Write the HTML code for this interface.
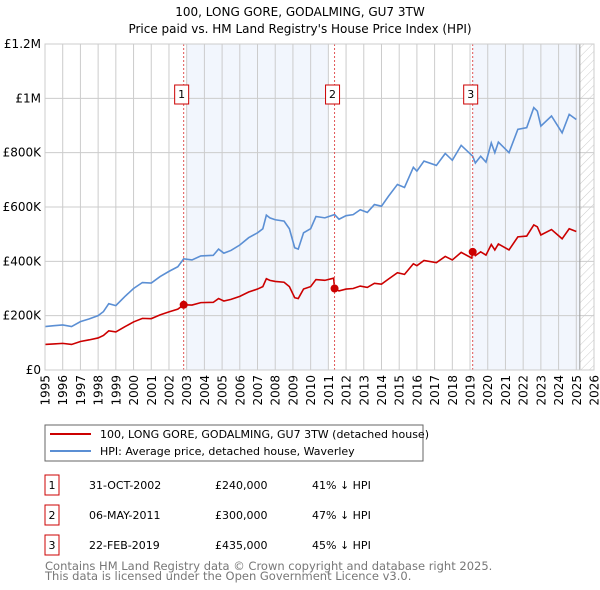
<!DOCTYPE html>
<html><head><meta charset="utf-8"><style>
body{margin:0;background:#fff;font-family:"DejaVu Sans","Liberation Sans",sans-serif;}
#wrap{position:relative;width:600px;height:590px;overflow:hidden;}
svg text{font-family:"DejaVu Sans","Liberation Sans",sans-serif;}
</style></head><body><div id="wrap">
<svg id="chart" width="600" height="590">
<text x="300" y="16" text-anchor="middle" font-size="12">100, LONG GORE, GODALMING, GU7 3TW</text>
<text x="300" y="33" text-anchor="middle" font-size="12">Price paid vs. HM Land Registry's House Price Index (HPI)</text>
<defs><pattern id="hatch" width="6" height="6" patternUnits="userSpaceOnUse" patternTransform="rotate(45)"><line x1="0" y1="0" x2="0" y2="6" stroke="#ccc" stroke-width="1"/></pattern></defs>
<g id="shade"></g><g id="grid"></g><g id="lines"></g><g id="marks"></g><g id="axes"></g>
<rect x="45" y="425" width="378" height="36" fill="#fff" stroke="#666"/>
<line x1="50" y1="434" x2="91" y2="434" stroke="#cc0000" stroke-width="2"/>
<text x="100" y="438" font-size="11">100, LONG GORE, GODALMING, GU7 3TW (detached house)</text>
<line x1="50" y1="451" x2="91" y2="451" stroke="#5b8fd4" stroke-width="2"/>
<text x="100" y="455" font-size="11">HPI: Average price, detached house, Waverley</text>
<g id="table" font-size="11"></g>
<text x="45" y="570" font-size="11.5" fill="#777">Contains HM Land Registry data © Crown copyright and database right 2025.</text>
<text x="45" y="580" font-size="11.5" fill="#777">This data is licensed under the Open Government Licence v3.0.</text>
</svg></div>
<script>
const hpiYears=[1995.0,1995.5,1996.0,1996.5,1997.0,1997.5,1998.0,1998.3,1998.6,1999.0,1999.5,2000.0,2000.5,2001.0,2001.5,2002.0,2002.5,2002.83,2003.3,2003.8,2004.5,2004.8,2005.1,2005.5,2006.0,2006.5,2007.0,2007.3,2007.5,2007.7,2008.0,2008.5,2008.8,2009.1,2009.3,2009.6,2010.0,2010.3,2010.8,2011.35,2011.6,2012.0,2012.4,2012.8,2013.2,2013.6,2014.0,2014.4,2014.9,2015.3,2015.8,2016.0,2016.4,2017.1,2017.6,2018.0,2018.5,2019.15,2019.3,2019.6,2019.9,2020.2,2020.4,2020.6,2021.2,2021.7,2022.2,2022.6,2022.8,2023.0,2023.6,2024.2,2024.6,2025.0];
const hpiValues=[160,163,166,160,178,188,200,215,244,237,270,300,322,320,344,363,380,409,405,420,422,445,430,440,460,487,505,520,570,560,553,548,520,450,445,505,520,565,560,572,555,568,572,590,580,609,603,640,683,672,746,732,769,753,797,772,827,787,762,787,765,836,800,839,800,886,892,966,953,898,935,873,941,922];
const priceYears=[1995.0,1995.5,1996.0,1996.5,1997.0,1997.5,1998.0,1998.3,1998.6,1999.0,1999.5,2000.0,2000.5,2001.0,2001.5,2002.0,2002.5,2002.83,2003.3,2003.8,2004.5,2004.8,2005.1,2005.5,2006.0,2006.5,2007.0,2007.3,2007.5,2007.7,2008.0,2008.5,2008.8,2009.1,2009.3,2009.6,2010.0,2010.3,2010.8,2011.3,2011.35,2011.6,2012.0,2012.4,2012.8,2013.2,2013.6,2014.0,2014.4,2014.9,2015.3,2015.8,2016.0,2016.4,2017.1,2017.6,2018.0,2018.5,2019.1,2019.15,2019.3,2019.6,2019.9,2020.2,2020.4,2020.6,2021.2,2021.7,2022.2,2022.6,2022.8,2023.0,2023.6,2024.2,2024.6,2025.0];
const priceValues=[94,96,98,94,105,111,118,127,144,140,159,177,190,189,203,214,224,240,239,248,249,263,254,260,271,287,298,307,336,330,326,323,307,266,263,298,307,333,330,338,300,291,298,300,309,304,319,316,335,358,352,391,384,403,395,418,405,433,412,435,421,435,423,462,442,464,442,490,493,534,527,497,517,483,520,510];
const saleLabels=["1","2","3"];
const saleYears=[2002.83,2011.35,2019.15];
const salePrices=[240,300,435];
const saleDates=["31-OCT-2002","06-MAY-2011","22-FEB-2019"];
const salePriceText=["£240,000","£300,000","£435,000"];
const saleDiffText=["41% ↓ HPI","47% ↓ HPI","45% ↓ HPI"];
const yTickValues=[0,200,400,600,800,1000,1200];
const yTickLabels=["£0","£200K","£400K","£600K","£800K","£1M","£1.2M"];
const xTickYears=[1995,1996,1997,1998,1999,2000,2001,2002,2003,2004,2005,2006,2007,2008,2009,2010,2011,2012,2013,2014,2015,2016,2017,2018,2019,2020,2021,2022,2023,2024,2025,2026];

const L=45,R=594,T=44,B=370;
const X=y=>L+(y-1995)/(2026-1995)*(R-L);
const Y=v=>B-v/1200*(B-T);
const NS="http://www.w3.org/2000/svg";
function mk(p,tag,a){const e=document.createElementNS(NS,tag);for(const k in a)e.setAttribute(k,a[k]);p.appendChild(e);return e;}
const shade=document.getElementById('shade'),grid=document.getElementById('grid'),lines=document.getElementById('lines'),marks=document.getElementById('marks'),axes=document.getElementById('axes'),table=document.getElementById('table');
let r=mk(shade,'rect',{x:X(saleYears[0])+3,y:T,width:X(saleYears[1])-X(saleYears[0])-9,height:B-T,fill:'#eef3fc',opacity:0.75});


r=mk(shade,'rect',{x:X(saleYears[2]),y:T,width:X(2025.2)-X(saleYears[2]),height:B-T,fill:'#eef3fc',opacity:0.75});


r=mk(shade,'rect',{x:X(2025.2),y:T,width:R-X(2025.2),height:B-T,fill:'url(#hatch)'});


yTickValues.forEach((v,i)=>{
 const g=mk(grid,'line',{x1:L,x2:R,y1:Y(v),y2:Y(v),stroke:'#ccc','stroke-width':1});
 
 
 const t=mk(axes,'text',{x:L-4,y:Y(v)+4,'text-anchor':'end','font-size':12});
 t.textContent=yTickLabels[i];
 
 
});
xTickYears.forEach(yr=>{
 const g=mk(grid,'line',{x1:X(yr),x2:X(yr),y1:T,y2:B,stroke:'#ccc','stroke-width':1});
 
 
 const tx=X(yr)+4.5,ty=375;
 const t=mk(axes,'text',{x:tx,y:ty,'text-anchor':'end','font-size':12,transform:`rotate(-90 ${tx} ${ty})`});
 t.textContent=yr;
 
 
});
const nl=mk(grid,'line',{x1:X(2025.2),x2:X(2025.2),y1:T,y2:B,stroke:'#999','stroke-width':1});


const hp=mk(lines,'polyline',{points:hpiYears.map((y,i)=>X(y)+','+Y(hpiValues[i])).join(' '),fill:'none',stroke:'#5b8fd4','stroke-width':1.6});


const pp=mk(lines,'polyline',{points:priceYears.map((y,i)=>X(y)+','+Y(priceValues[i])).join(' '),fill:'none',stroke:'#cc0000','stroke-width':1.6});


saleYears.forEach((yr,i)=>{
 const x=X(yr);
 const vl=mk(marks,'line',{x1:x,x2:x,y1:T,y2:B,stroke:'#e05555','stroke-width':1,'stroke-dasharray':'2,2'});
 
 
 const b=mk(marks,'rect',{x:x-9,y:85,width:14,height:19,fill:'#fff',stroke:'#cc0000'});
 
 
 const t=mk(marks,'text',{x:x-2,y:98,'font-size':11,'text-anchor':'middle'});
 t.textContent=saleLabels[i];
 
 
 const c=mk(marks,'circle',{cx:x,cy:Y(salePrices[i]),r:4,fill:'#cc0000'});
 
 
 const ty=475+i*30;
 const tb=mk(table,'rect',{x:45,y:ty,width:14,height:20,fill:'none',stroke:'#cc0000'});
 
 
 const cols=[[52,saleLabels[i],'middle'],[89,saleDates[i],'start'],[215,salePriceText[i],'start'],[312,saleDiffText[i],'start']];
 cols.forEach(([cx,txt,an],j)=>{
  const tt=mk(table,'text',{x:cx,y:ty+14,'text-anchor':an});
  tt.textContent=txt;
  
  
 });
});
const fr=mk(axes,'rect',{x:L,y:T,width:R-L,height:B-T,fill:'none',stroke:'#ccc'});


</script></body></html>
